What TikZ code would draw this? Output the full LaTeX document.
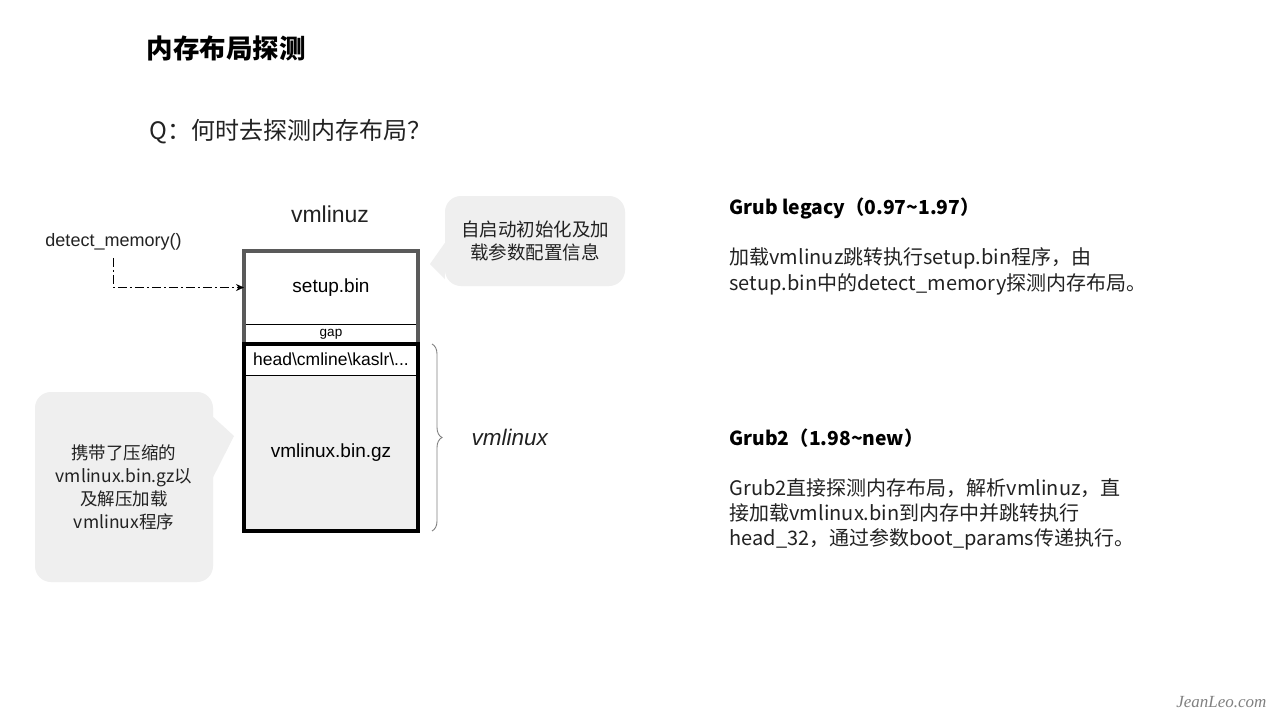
\documentclass[tikz,border=0pt]{standalone}
\usepackage{fontspec}
\usepackage{xcolor}
\setmainfont{Noto Sans CJK SC}
\newfontfamily\arial{Liberation Sans}
\newfontfamily\markfont{Liberation Serif}
\usetikzlibrary{arrows.meta, positioning, decorations.pathreplacing}

\definecolor{notegray}{HTML}{EFEFEF}
\definecolor{framegray}{HTML}{5A5A5A}
\definecolor{inkgray}{HTML}{222222}

\begin{document}
\begin{tikzpicture}[
  x=1pt, y=-1pt,
  >={Stealth[length=8pt, width=7pt]},
  seg/.style={rectangle, draw=black, line width=0.6pt, minimum width=174pt, outer sep=0pt, inner sep=0pt, font=\arial\fontsize{19}{22}\selectfont},
  note/.style={rectangle, rounded corners=16pt, fill=notegray, align=center, text=inkgray, font=\fontsize{18.5}{23}\selectfont},
  lbl/.style={text=inkgray, font=\arial\fontsize{18}{21}\selectfont},
  para/.style={anchor=west, align=left, text=inkgray, font=\fontsize{20}{26.5}\selectfont},
  head/.style={anchor=west, align=left, text=black, font=\bfseries\fontsize{19.3}{22}\selectfont},
]
  \useasboundingbox[fill=white] (0,0) rectangle (1280,720);

  % titles
  \node[anchor=west, font=\bfseries\fontsize{26.5}{30}\selectfont] (title) at (143,48) {内存布局探测};
  \node[anchor=west, text=inkgray, font=\fontsize{24}{27}\selectfont] (question) at (146,132) {Q：何时去探测内存布局？};

  % vmlinuz image
  \node[lbl, font=\arial\fontsize{23}{26}\selectfont] (vmlinuz) at (330,214) {vmlinuz};
  \node[seg, minimum height=73pt] (setup) at (331,287.5) {setup.bin};
  \node[seg, minimum height=20pt, font=\arial\fontsize{13.5}{15}\selectfont] (gap) at (331,334) {gap};
  \node[seg, minimum height=31pt, font=\arial\fontsize{17.5}{20}\selectfont] (hdr) at (331,359.5) {head\textbackslash cmline\textbackslash kaslr\textbackslash ...};
  \node[seg, minimum height=156pt, fill=notegray] (gz) at (331,453) {vmlinux.bin.gz};
  \draw[framegray, line width=3.5pt] (setup.north west) rectangle (gz.south east);
  \draw[black, line width=3.5pt] (hdr.north west) rectangle (gz.south east);

  % detect_memory
  \node[lbl] (detect) at (113.5,242) {detect\_memory()};
  \draw[->, dash pattern=on 9pt off 3pt on 2pt off 3pt, line width=0.8pt] ([yshift=-4pt]detect.south) |- (setup.west);

  % vmlinux brace
  \draw[decorate, decoration={brace, amplitude=10pt}, gray, line width=0.9pt]
    ([xshift=14pt]hdr.north east) -- ([xshift=14pt]gz.south east) coordinate[midway] (bracemid);
  \node[lbl, font=\arial\itshape\fontsize{22.5}{26}\selectfont, anchor=west] (vmlinux) at ([xshift=36pt]bracemid) {vmlinux};

  % notes
  \node[note, minimum width=180pt, minimum height=90pt] (cfgnote) at (535,241) {自启动初始化及加\\载参数配置信息};
  \fill[notegray] ([yshift=-2pt]cfgnote.west) -- (430,264) -- ([yshift=-38pt]cfgnote.west) -- cycle;
  \node[note, minimum width=178pt, minimum height=190pt, font=\fontsize{17.5}{23}\selectfont] (gznote) at (124,487) {携带了压缩的\\vmlinux.bin.gz以\\及解压加载\\vmlinux程序};
  \fill[notegray] ([yshift=70pt]gznote.east) -- (234,436) -- ([yshift=10pt]gznote.east) -- cycle;

  % right column
  \node[head] (legacy) at (726,208) {Grub legacy（0.97\textasciitilde 1.97）};
  \node[para] (legacytext) at (726,271.5) {加载vmlinuz跳转执行setup.bin程序，由\\setup.bin中的detect\_memory探测内存布局。};
  \node[head] (grubtwo) at (726,438) {Grub2（1.98\textasciitilde new）};
  \node[para, font=\fontsize{20}{25}\selectfont] (grubtext) at (726,514.5) {Grub2直接探测内存布局，解析vmlinuz，直\\接加载vmlinux.bin到内存中并跳转执行\\head\_32，通过参数boot\_params传递执行。};

  % watermark
  \node[anchor=east, text=gray, font=\markfont\itshape\fontsize{17}{19}\selectfont] (mark) at (1270,702) {JeanLeo.com};
\end{tikzpicture}
\end{document}
